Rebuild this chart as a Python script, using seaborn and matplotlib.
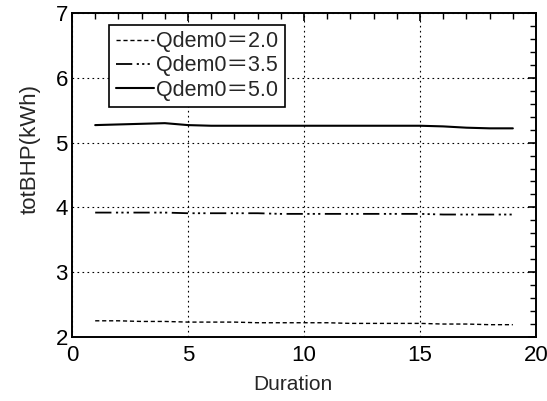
import matplotlib
matplotlib.use("Agg")
import matplotlib.pyplot as plt
from matplotlib.ticker import MultipleLocator
import seaborn as sns
import pandas as pd

# Duration steps and total brake horsepower per demand setting
duration = list(range(1, 20))
q20 = [2.25, 2.25, 2.24, 2.24, 2.23, 2.23, 2.23, 2.22, 2.22, 2.22,
       2.22, 2.21, 2.21, 2.21, 2.21, 2.20, 2.20, 2.19, 2.19]
q35 = [3.92, 3.92, 3.92, 3.92, 3.91, 3.91, 3.91, 3.91, 3.90, 3.90,
       3.90, 3.90, 3.90, 3.90, 3.90, 3.89, 3.89, 3.89, 3.89]
q50 = [5.27, 5.28, 5.29, 5.30, 5.27, 5.26, 5.26, 5.26, 5.26, 5.26,
       5.26, 5.26, 5.26, 5.26, 5.26, 5.25, 5.23, 5.22, 5.22]
labels = ["Qdem0\uff1d2.0", "Qdem0\uff1d3.5", "Qdem0\uff1d5.0"]

df = pd.concat([
    pd.DataFrame({"Duration": duration, "totBHP": vals, "series": lab})
    for vals, lab in zip([q20, q35, q50], labels)
])

sns.set_theme(style="white")
plt.rcParams["font.family"] = ["Liberation Sans", "Noto Sans CJK JP", "DejaVu Sans"]

fig = plt.figure(figsize=(5.47, 4.01), dpi=100)
ax = fig.add_axes([0.1316, 0.1596, 0.8484, 0.808])

dash_styles = {
    labels[0]: (3, 2),
    labels[1]: (9, 2.5, 1.2, 1.8, 1.2, 1.8, 1.2, 2.5),
    labels[2]: "",
}
widths = {labels[0]: 1.0, labels[1]: 1.3, labels[2]: 1.5}

sns.lineplot(data=df, x="Duration", y="totBHP", style="series",
             dashes=dash_styles, color="black", ax=ax, legend=True)
for line, lab in zip(ax.get_lines(), labels):
    line.set_linewidth(widths[lab])

ax.set_xlim(0, 20)
ax.set_ylim(2, 7)
ax.xaxis.set_major_locator(MultipleLocator(5))
ax.xaxis.set_minor_locator(MultipleLocator(1))
ax.yaxis.set_major_locator(MultipleLocator(1))
ax.yaxis.set_minor_locator(MultipleLocator(0.2))

ax.grid(True, which="major", color="black", linestyle=(0, (1.5, 3)), linewidth=0.8)
ax.tick_params(which="both", direction="in", top=True, right=True,
               colors="black", labelsize=16)
ax.tick_params(axis="x", which="major", pad=6)
ax.tick_params(axis="y", which="major", pad=3)
ax.tick_params(which="major", length=6, width=1.2)
ax.tick_params(which="minor", length=4, width=1.0)
for sp in ax.spines.values():
    sp.set_color("black")
    sp.set_linewidth(1.4)

ax.set_xlabel("Duration", fontsize=15, labelpad=6, x=0.475)
ax.set_ylabel("totBHP(kWh)", fontsize=16, labelpad=11, y=0.58)

handles, _ = ax.get_legend_handles_labels()
for h, lab in zip(handles, labels):
    h.set_linewidth(widths[lab])
leg = ax.legend(handles, labels, loc="upper left", bbox_to_anchor=(0.08, 0.964),
                fontsize=15.5, frameon=True, fancybox=False, handlelength=1.8,
                handletextpad=0.1, borderpad=0.3, labelspacing=0.15,
                borderaxespad=0)
leg.get_frame().set_edgecolor("black")
leg.get_frame().set_linewidth(1.2)
leg.get_frame().set_alpha(1)

fig.savefig("out.png", dpi=100)
